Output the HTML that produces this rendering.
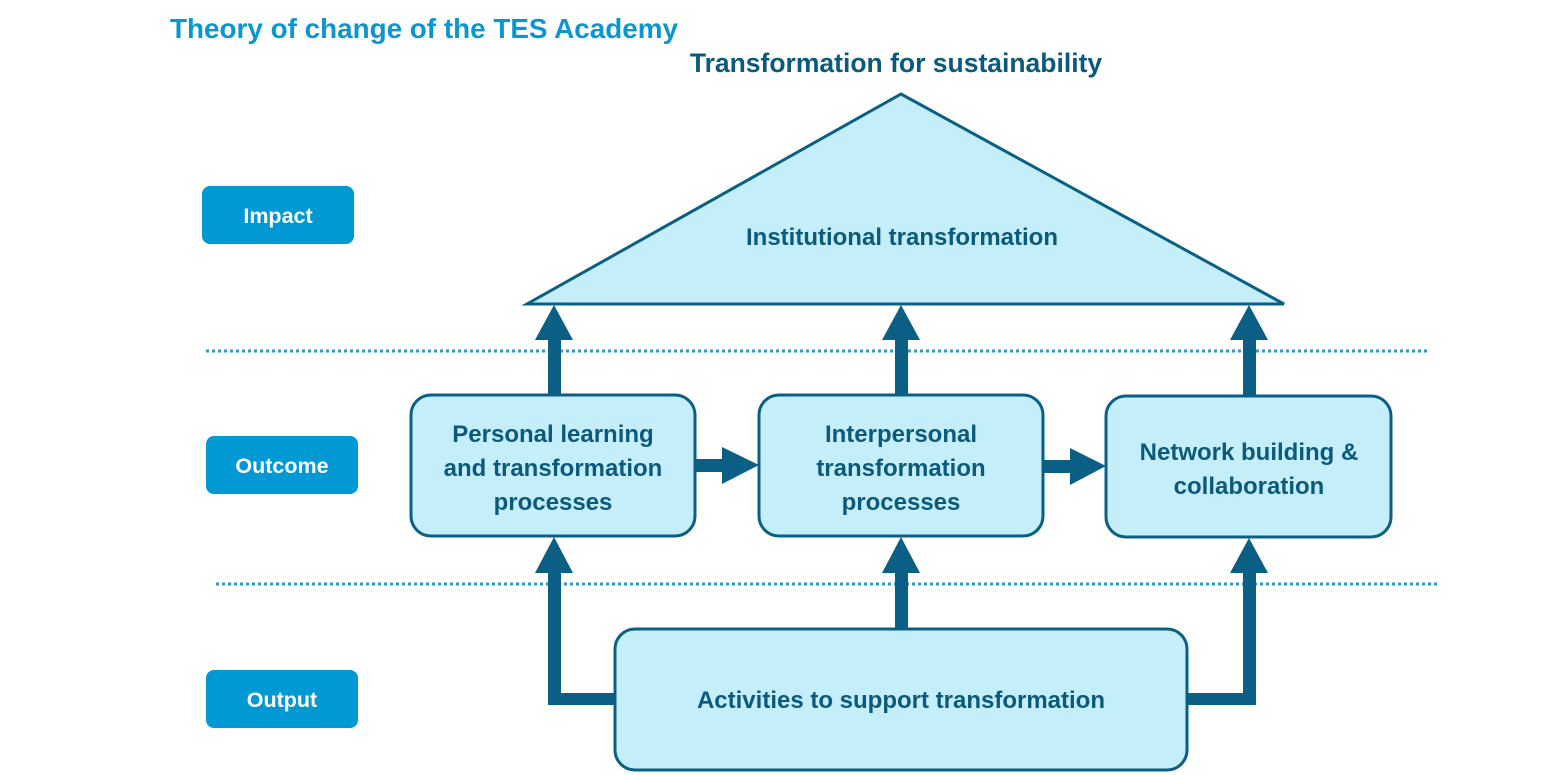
<!DOCTYPE html>
<html><head><meta charset="utf-8"><style>
html,body{margin:0;padding:0;background:#fff;}
svg{display:block;}
text{font-family:"Liberation Sans",sans-serif;font-weight:bold;}
</style></head><body>
<svg width="1545" height="775" viewBox="0 0 1545 775" xmlns="http://www.w3.org/2000/svg">
<text x="170" y="38" font-size="28" fill="#0a96cf" textLength="508" lengthAdjust="spacingAndGlyphs">Theory of change of the TES Academy</text>
<text x="896" y="72" font-size="26.5" fill="#0b5a7d" text-anchor="middle">Transformation for sustainability</text>
<polygon points="901,94 527,304 1284,304" fill="#c5eefb" stroke="#0b5f84" stroke-width="3" stroke-linejoin="miter"/>
<text x="902" y="245" font-size="24" fill="#0b5a7d" text-anchor="middle">Institutional transformation</text>

<g fill="#0099d4">
<rect x="202" y="186" width="152" height="58" rx="8"/>
<rect x="206" y="436" width="152" height="58" rx="8"/>
<rect x="206" y="670" width="152" height="58" rx="8"/>
</g>
<g font-size="21.5" fill="#fff" text-anchor="middle">
<text x="278" y="223">Impact</text>
<text x="282" y="473">Outcome</text>
<text x="282" y="707">Output</text>
</g>

<g stroke="#2a9ac8" stroke-width="3" stroke-dasharray="3 3">
<line x1="206" y1="351" x2="1430" y2="351"/>
<line x1="216" y1="584" x2="1440" y2="584"/>
</g>

<g fill="#0b5f84" stroke="none">
<rect x="548" y="338" width="13" height="58"/><polygon points="535,340 573,340 554,305"/>
<rect x="895" y="338" width="13" height="58"/><polygon points="882,340 920,340 901,305"/>
<rect x="1243" y="338" width="13" height="59"/><polygon points="1230,340 1268,340 1249,305"/>
<rect x="694" y="459" width="30" height="13"/><polygon points="722,447 722,484 759,465"/>
<rect x="1042" y="460" width="30" height="13"/><polygon points="1070,448 1070,485 1106,466"/>
<rect x="548" y="571" width="13" height="134"/><rect x="548" y="693" width="70" height="12"/><polygon points="535,573 573,573 554,537"/>
<rect x="895" y="571" width="13" height="60"/><polygon points="882,573 920,573 901,537"/>
<rect x="1243" y="571" width="13" height="134"/><rect x="1185" y="693" width="71" height="12"/><polygon points="1230,573 1268,573 1249,538"/>
</g>

<g fill="#c5eefb" stroke="#0b5f84" stroke-width="3">
<rect x="411" y="395" width="284" height="141" rx="20"/>
<rect x="759" y="395" width="284" height="141" rx="20"/>
<rect x="1106" y="396" width="285" height="141" rx="20"/>
<rect x="615" y="629" width="572" height="141" rx="20"/>
</g>
<g font-size="24" fill="#0b5a7d" text-anchor="middle">
<text x="553" y="442">Personal learning</text>
<text x="553" y="476">and transformation</text>
<text x="553" y="510">processes</text>
<text x="901" y="442">Interpersonal</text>
<text x="901" y="476">transformation</text>
<text x="901" y="510">processes</text>
<text x="1249" y="460">Network building &amp;</text>
<text x="1249" y="494">collaboration</text>
<text x="901" y="708">Activities to support transformation</text>
</g>
</svg>
</body></html>
